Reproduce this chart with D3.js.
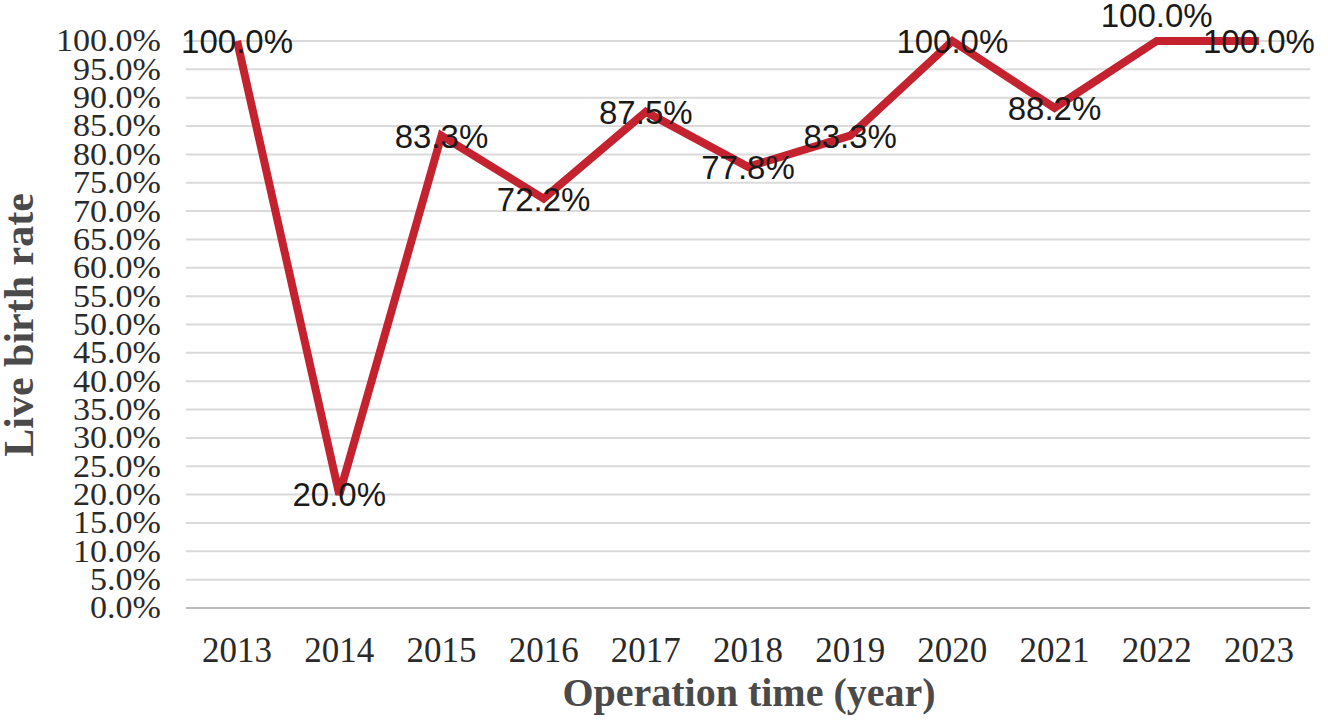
<!DOCTYPE html>
<html>
<head>
<meta charset="utf-8">
<script src="https://cdn.jsdelivr.net/npm/d3@7"></script>
<style>
  body { margin: 0; background: #fff; }
</style>
</head>
<body>
<div id="chart"></div>
<script>
const years = ['2013', '2014', '2015', '2016', '2017', '2018', '2019', '2020', '2021', '2022', '2023']
const rates = [100.0, 20.0, 83.3, 72.2, 87.5, 77.8, 83.3, 100.0, 88.2, 100.0, 100.0]
const yTicks = d3.range(0, 101, 5)
const labelsAbove = ['2022'] // labels pushed above the point, rest sit centred on it

const width = 1328, height = 722
const margin = { top: 41, right: 18, bottom: 114, left: 186 }

const svg = d3.select('#chart').append('svg').attr('width', width).attr('height', height)

const x = d3.scaleBand().domain(years).range([margin.left, width - margin.right])
const y = d3.scaleLinear().domain([0, 100]).range([height - margin.bottom, margin.top])

// gridlines
svg.append('g')
  .selectAll('line')
  .data(yTicks)
  .enter()
  .append('line')
  .attr('x1', margin.left)
  .attr('x2', width - margin.right)
  .attr('y1', d => y(d))
  .attr('y2', d => y(d))
  .attr('stroke', d => (d === 0 ? '#bdbdbd' : '#dadada'))
  .attr('stroke-width', 2)

// y tick labels
const yAxis = svg.append('g')
  .attr('transform', `translate(${margin.left - 25},0)`)
  .call(d3.axisLeft(y).tickValues(yTicks).tickSize(0).tickFormat(d => d.toFixed(1) + '%'))
yAxis.select('.domain').remove()
yAxis.selectAll('text')
  .attr('font-family', '"Liberation Serif", "DejaVu Serif", serif')
  .attr('font-size', 31)
  .attr('fill', '#2a2a2a')
  .attr('transform', 'scale(1.1,1)')
  .attr('x', 0)

// x tick labels
const xAxis = svg.append('g')
  .attr('transform', `translate(0,${height - margin.bottom})`)
  .call(d3.axisBottom(x).tickSize(0))
xAxis.select('.domain').remove()
xAxis.selectAll('text')
  .attr('font-family', '"Liberation Serif", "DejaVu Serif", serif')
  .attr('font-size', 35)
  .attr('fill', '#2a2a2a')
  .attr('dy', '1.45em')

// line
const pts = years.map((yr, i) => ({ year: yr, value: rates[i] }))
const line = d3.line().x(d => x(d.year) + x.bandwidth() / 2).y(d => y(d.value))

svg.append('path')
  .datum(pts)
  .attr('d', line)
  .attr('fill', 'none')
  .attr('stroke', '#c4222f')
  .attr('stroke-width', 8)
  .attr('stroke-linejoin', 'miter')

// data labels
svg.append('g')
  .selectAll('text')
  .data(pts)
  .enter()
  .append('text')
  .attr('x', d => x(d.year) + x.bandwidth() / 2)
  .attr('y', d => y(d.value) + (labelsAbove.includes(d.year) ? -26 : 0))
  .attr('dy', '0.36em')
  .attr('text-anchor', 'middle')
  .attr('font-family', '"Liberation Sans", Arial, sans-serif')
  .attr('font-size', 33)
  .attr('fill', '#1a1a1a')
  .text(d => d.value.toFixed(1) + '%')

// axis titles
svg.append('text')
  .attr('x', 749)
  .attr('y', 706)
  .attr('text-anchor', 'middle')
  .attr('font-family', '"Liberation Serif", "DejaVu Serif", serif')
  .attr('font-weight', 'bold')
  .attr('font-size', 40)
  .attr('fill', '#4a4a4a')
  .text('Operation time (year)')

svg.append('text')
  .attr('transform', 'translate(33,325) rotate(-90)')
  .attr('text-anchor', 'middle')
  .attr('font-family', '"Liberation Serif", "DejaVu Serif", serif')
  .attr('font-weight', 'bold')
  .attr('font-size', 42)
  .attr('fill', '#4a4a4a')
  .text('Live birth rate')
</script>
</body>
</html>
